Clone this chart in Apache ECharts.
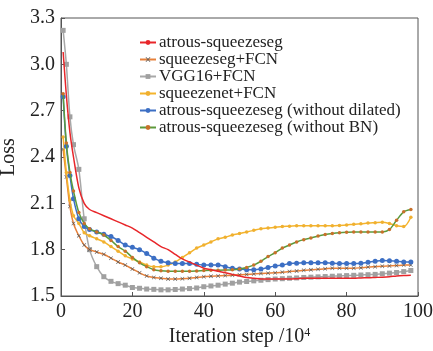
<!DOCTYPE html>
<html>
<head>
<meta charset="utf-8">
<script src="https://cdn.jsdelivr.net/npm/echarts@6/dist/echarts.min.js"></script>
<style>html,body{margin:0;padding:0;background:#fff;}#c{width:433px;height:351px;}</style>
</head>
<body>
<div id="c"></div>
<script>
var xs = [0.6, 1.5, 2.5, 3.5, 5, 6.5, 8, 10, 12, 14, 16, 18, 20, 22, 24, 26, 28, 30, 32, 34, 36, 38, 40, 42, 44, 46, 48, 50, 52, 54, 56, 58, 60, 62, 64, 66, 68, 70, 72, 74, 76, 78, 80, 82, 84, 86, 88, 90, 92, 94, 96, 98];

var atrous = [3.08, 2.80, 2.56, 2.40, 2.20, 2.10, 2.06, 2.04, 2.02, 2.00, 1.98, 1.96, 1.94, 1.91, 1.88, 1.85, 1.82, 1.80, 1.77, 1.74, 1.72, 1.70, 1.68, 1.67, 1.66, 1.65, 1.64, 1.63, 1.62, 1.615, 1.61, 1.61, 1.61, 1.61, 1.61, 1.612, 1.615, 1.615, 1.615, 1.615, 1.615, 1.615, 1.615, 1.615, 1.617, 1.618, 1.62, 1.622, 1.625, 1.63, 1.633, 1.635];

var squeezeFCN = [2.45, 2.27, 2.08, 1.97, 1.89, 1.83, 1.80, 1.785, 1.77, 1.745, 1.72, 1.70, 1.675, 1.65, 1.63, 1.62, 1.615, 1.61, 1.61, 1.612, 1.615, 1.62, 1.625, 1.628, 1.63, 1.632, 1.635, 1.637, 1.64, 1.643, 1.646, 1.648, 1.65, 1.654, 1.658, 1.662, 1.666, 1.67, 1.673, 1.676, 1.68, 1.68, 1.68, 1.68, 1.683, 1.687, 1.69, 1.693, 1.695, 1.697, 1.70, 1.70];

var vgg = [3.22, 3.00, 2.66, 2.48, 2.32, 2.00, 1.80, 1.69, 1.625, 1.595, 1.58, 1.57, 1.555, 1.55, 1.545, 1.543, 1.54, 1.54, 1.542, 1.545, 1.548, 1.552, 1.56, 1.565, 1.57, 1.577, 1.583, 1.59, 1.594, 1.598, 1.602, 1.606, 1.61, 1.612, 1.615, 1.617, 1.62, 1.622, 1.624, 1.626, 1.628, 1.63, 1.632, 1.634, 1.636, 1.638, 1.64, 1.644, 1.648, 1.652, 1.658, 1.665];

var squeezenet = [2.53, 2.30, 2.12, 2.02, 1.97, 1.91, 1.89, 1.87, 1.85, 1.82, 1.79, 1.76, 1.74, 1.72, 1.70, 1.69, 1.69, 1.70, 1.72, 1.75, 1.78, 1.81, 1.83, 1.85, 1.87, 1.88, 1.895, 1.905, 1.915, 1.925, 1.935, 1.94, 1.945, 1.95, 1.952, 1.955, 1.955, 1.955, 1.955, 1.955, 1.955, 1.957, 1.96, 1.965, 1.968, 1.972, 1.975, 1.978, 1.97, 1.955, 1.95, 2.01];

var noDilated = [2.79, 2.47, 2.28, 2.13, 2.00, 1.95, 1.93, 1.915, 1.90, 1.885, 1.86, 1.83, 1.815, 1.80, 1.775, 1.745, 1.725, 1.715, 1.71, 1.71, 1.71, 1.705, 1.70, 1.70, 1.70, 1.69, 1.68, 1.675, 1.67, 1.67, 1.675, 1.685, 1.695, 1.70, 1.71, 1.712, 1.715, 1.715, 1.715, 1.715, 1.712, 1.71, 1.71, 1.71, 1.712, 1.718, 1.725, 1.73, 1.728, 1.725, 1.72, 1.72];

var noBN = [2.81, 2.49, 2.30, 2.18, 2.04, 1.97, 1.935, 1.915, 1.895, 1.86, 1.82, 1.79, 1.75, 1.715, 1.69, 1.67, 1.663, 1.66, 1.66, 1.66, 1.66, 1.662, 1.665, 1.667, 1.667, 1.668, 1.67, 1.675, 1.685, 1.70, 1.725, 1.755, 1.78, 1.81, 1.83, 1.85, 1.865, 1.875, 1.888, 1.898, 1.905, 1.91, 1.913, 1.915, 1.915, 1.915, 1.915, 1.915, 1.93, 1.99, 2.045, 2.06];

var names = ['atrous-squeezeseg', 'squeezeseg+FCN', 'VGG16+FCN', 'squeezenet+FCN', 'atrous-squeezeseg (without dilated)', 'atrous-squeezeseg (without BN)'];
var yTicks = [1.5, 1.8, 2.1, 2.4, 2.7, 3.0, 3.3];
var xTicks = [0, 20, 40, 60, 80, 100];

function pairs(ys) { return xs.map(function (x, i) { return [x, ys[i]]; }); }

var crossPath = 'path://M0,1 L1,0 L5,4 L9,0 L10,1 L6,5 L10,9 L9,10 L5,6 L1,10 L0,9 L4,5 Z';
var font = 'Liberation Serif';

function mk(name, ys, lineColor, symbol, symColor, symSize, z) {
  return {
    name: name, type: 'line', data: pairs(ys), smooth: 0.3,
    symbol: symbol, symbolSize: symSize, showSymbol: true,
    lineStyle: { color: lineColor, width: 1.5 },
    itemStyle: { color: symColor, borderWidth: 0 },
    z: z
  };
}

var chart = echarts.init(document.getElementById('c'), null, { renderer: 'canvas' });
chart.setOption({
  animation: false,
  backgroundColor: '#fff',
  grid: { left: 61, right: 15, top: 18, bottom: 55, show: true, borderColor: '#555', borderWidth: 1, containLabel: false, outerBoundsMode: 'none' },
  legend: {
    orient: 'vertical', left: 134, top: 29, itemWidth: 16, itemHeight: 6, itemGap: 0,
    textStyle: { fontFamily: font, fontSize: 17, color: '#222', padding: [0, 0, 0, -2] },
    data: names
  },
  xAxis: {
    type: 'value', min: 0, max: 100, interval: 20,
    name: 'Iteration step /10{sup|4}', nameLocation: 'middle', nameGap: 29,
    nameTextStyle: { fontFamily: font, fontSize: 20, color: '#222', rich: { sup: { fontFamily: font, fontSize: 12, color: '#222', verticalAlign: 'top', padding: [0, 0, 8, 0] } } },
    axisLine: { lineStyle: { color: '#555' } },
    axisTick: { inside: true, length: 4, lineStyle: { color: '#555' } },
    axisLabel: { fontFamily: font, fontSize: 20, color: '#222', margin: 6 },
    splitLine: { show: false }
  },
  yAxis: {
    type: 'value', min: 1.5, max: 3.3, interval: 0.3,
    name: 'Loss', nameLocation: 'middle', nameGap: 36,
    nameTextStyle: { fontFamily: font, fontSize: 20, color: '#222' },
    axisLine: { show: true, lineStyle: { color: '#555' } },
    axisTick: { show: true, inside: true, length: 4, lineStyle: { color: '#555' } },
    axisLabel: { fontFamily: font, fontSize: 20, color: '#222', margin: 6, formatter: function (v) { return v.toFixed(1); } },
    splitLine: { show: false }
  },
  series: [
    mk(names[0], atrous, '#e8262a', 'none', '#e8262a', 0, 8),
    mk(names[1], squeezeFCN, '#e6803a', crossPath, '#555', 4, 3),
    mk(names[2], vgg, '#a8a8a8', 'rect', '#a0a0a0', 5, 2),
    mk(names[3], squeezenet, '#f4b42c', 'circle', '#f0b030', 3.5, 4),
    mk(names[4], noDilated, '#3c6fc4', 'circle', '#3c6fc4', 5, 5),
    mk(names[5], noBN, '#5c9a3c', 'circle', '#c8702a', 3.5, 6)
  ]
});
</script>
</body>
</html>
